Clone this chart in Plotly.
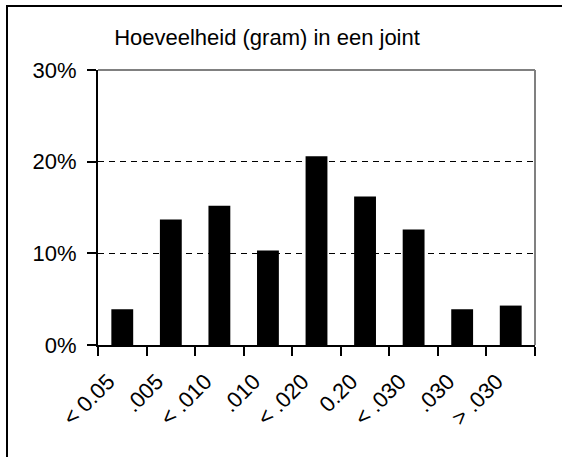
import plotly.graph_objects as go

categories = ["< 0.05", ".005", "< .010", ".010", "< .020", "0.20", "< .030", ".030", "> .030"]
percentages = [0.039, 0.137, 0.152, 0.103, 0.206, 0.162, 0.126, 0.039, 0.043]
y_ticks = [0.0, 0.1, 0.2, 0.3]
y_tick_labels = ["0%", "10%", "20%", "30%"]
title_text = "Hoeveelheid (gram) in een joint"

W, H = 562, 457
ML, MR, MT, MB = 98, 27, 70, 112
PW = W - ML - MR
PH = H - MT - MB

def px_x(page_x):
    return (page_x - ML) / PW

def px_y(page_y):
    return (H - MB - page_y) / PH

FONT = "Liberation Sans, Arial, sans-serif"
FS = 22

fig = go.Figure(
    go.Bar(
        x=categories,
        y=percentages,
        marker=dict(color="black", line=dict(width=0)),
        width=0.45,
        hoverinfo="skip",
    )
)

fig.update_layout(
    width=W,
    height=H,
    margin=dict(l=ML, r=MR, t=MT, b=MB),
    paper_bgcolor="white",
    plot_bgcolor="white",
    showlegend=False,
    font=dict(family=FONT, size=FS, color="black"),
    title=dict(
        text=title_text,
        x=267 / W,
        xref="container",
        xanchor="center",
        y=1 - 37 / H,
        yref="container",
        yanchor="middle",
        font=dict(family=FONT, size=FS, color="black"),
    ),
    xaxis=dict(
        type="category",
        tickson="boundaries",
        ticks="outside",
        ticklen=9,
        tickwidth=2,
        tickcolor="black",
        showline=True,
        linecolor="black",
        linewidth=2,
        showgrid=False,
        tickangle=-45,
        ticklabelstandoff=13,
        ticklabelshift=-14,
        tickfont=dict(family=FONT, size=FS, color="black"),
    ),
    yaxis=dict(
        range=[0, 0.3],
        tickvals=y_ticks,
        ticktext=y_tick_labels,
        ticks="outside",
        ticklen=9,
        tickwidth=2,
        tickcolor="black",
        showline=True,
        linecolor="black",
        linewidth=2,
        showgrid=True,
        gridcolor="black",
        gridwidth=1,
        griddash="6px,5px",
        zeroline=False,
        ticklabelstandoff=6,
        tickfont=dict(family=FONT, size=FS, color="black"),
    ),
    shapes=[
        dict(type="line", xref="paper", yref="paper", x0=0, x1=1, y0=1, y1=1,
             line=dict(color="#808080", width=2), layer="above"),
        dict(type="line", xref="paper", yref="paper", x0=1, x1=1, y0=0, y1=1,
             line=dict(color="#808080", width=2), layer="above"),
        dict(type="rect", xref="paper", yref="paper",
             x0=px_x(7), x1=px_x(580), y0=px_y(480), y1=px_y(6),
             line=dict(color="black", width=2), fillcolor="rgba(0,0,0,0)", layer="above"),
    ],
)

fig.write_html(
    "out.html",
    config={"displayModeBar": False, "staticPlot": True},
    post_script="document.body.style.margin='0';document.body.style.overflow='hidden';",
)
